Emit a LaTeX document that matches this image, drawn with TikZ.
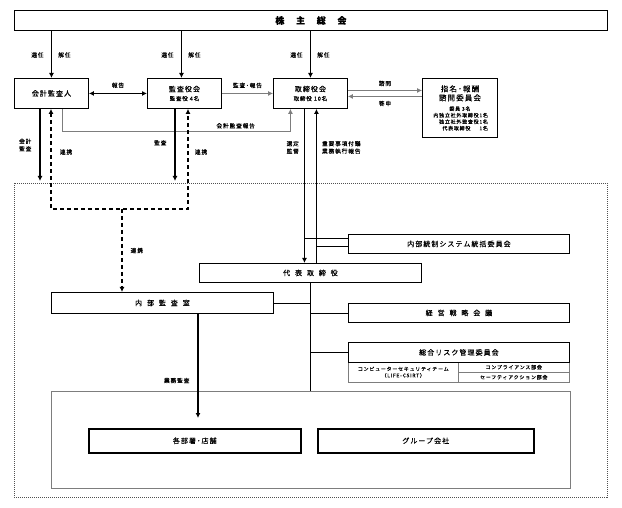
\documentclass[tikz,border=0pt]{standalone}
\usepackage{fontspec}
\setmainfont{Noto Sans CJK JP}[LetterSpace=15, FakeBold=0.3]
\usetikzlibrary{arrows.meta,positioning,calc}
\usepackage{xcolor}
\definecolor{linegray}{RGB}{125,125,125}
\definecolor{framegray}{RGB}{80,80,80}
\newcommand{\wide}[1]{{\addfontfeature{LetterSpace=70}#1}}

\begin{document}
\begin{tikzpicture}[x=1pt, y=-1pt,
  >={Latex[length=5pt,width=5pt]},
  box/.style={draw, line width=0.9pt, anchor=north west, inner sep=0pt, align=center, font=\fontsize{7}{9}\selectfont},
  cell/.style={draw=linegray, line width=0.5pt, anchor=north west, inner sep=0pt, align=center, font=\fontsize{5}{6.5}\selectfont},
  lbl/.style={inner sep=0pt, align=center, font=\fontsize{5.7}{7.5}\selectfont},
  arr/.style={->, line width=1.2pt},
  grayarr/.style={->, draw=linegray, line width=0.8pt},
  link/.style={dash pattern=on 4pt off 3pt, line width=1.2pt},
  branch/.style={line width=0.9pt}
]
\useasboundingbox (0,0) rectangle (622,508);

\node[box, minimum width=593pt, minimum height=20pt, font=\fontsize{9}{9}\selectfont\bfseries] (soukai) at (14,10) {\addfontfeature{LetterSpace=130}株主総会};
\node[box, minimum width=74pt, minimum height=30pt] (kaikei) at (14,78) {会計監査人};
\node[box, minimum width=74pt, minimum height=30pt] (kansayaku) at (147,78) {監査役会\\{\fontsize{5.5}{7}\selectfont 監査役 4名}};
\node[box, minimum width=74pt, minimum height=30pt] (torishimari) at (273,78) {取締役会\\{\fontsize{5.5}{7}\selectfont 取締役 10名}};
\node[box, minimum width=75pt, minimum height=59pt] (shimei) at (422,78) {{\fontsize{7.5}{8.5}\selectfont 指名･報酬}\\{\fontsize{7.5}{8.5}\selectfont 諮問委員会}\\[1pt]
  {\fontsize{5}{5.5}\selectfont 委員 3名}\\[-2.5pt]
  {\fontsize{5}{5.5}\selectfont\makebox[56pt][r]{内独立社外取締役1名}}\\[-2.5pt]
  {\fontsize{5}{5.5}\selectfont\makebox[56pt][r]{独立社外監査役1名}}\\[-2.5pt]
  {\fontsize{5}{5.5}\selectfont\makebox[56pt][r]{代表取締役\hspace{9pt}1名}}};

\node[box, minimum width=221pt, minimum height=19pt] (toukatsu) at (348,234) {内部統制システム統括委員会};
\node[box, minimum width=222pt, minimum height=19pt] (daihyo) at (199,263) {\wide{代表取締役}};
\node[box, minimum width=222pt, minimum height=21pt] (naibu) at (51,292) {\wide{内部監査室}};
\node[box, minimum width=221pt, minimum height=19pt] (senryaku) at (348,303) {\wide{経営戦略会議}};
\node[cell, minimum width=110pt, minimum height=20pt] (csirt) at (348,362) {コンピューターセキュリティチーム\\（LIFE-CSIRT）};
\node[cell, minimum width=111pt, minimum height=10pt] (comp) at (458,362) {コンプライアンス部会};
\node[cell, minimum width=111pt, minimum height=10pt] (safety) at (458,372) {セーフティアクション部会};
\node[box, minimum width=221pt, minimum height=20pt] (risk) at (348,342) {総合リスク管理委員会};

\node[draw=linegray, line width=0.8pt, anchor=north west, minimum width=519pt, minimum height=97pt] (genba) at (51,391) {};
\node[box, line width=1.5pt, minimum width=212pt, minimum height=24pt] (busho) at (88,428) {各部署･店舗};
\node[box, line width=1.5pt, minimum width=216pt, minimum height=24pt] (group) at (317,428) {グループ会社};
\draw[framegray, line width=0.9pt, dash pattern=on 1pt off 1pt] (14,183) rectangle (607,497);

\foreach \n/\dx in {kaikei/0,kansayaku/-3,torishimari/0} {
  \draw[arr] ([xshift=\dx pt]soukai.south -| \n.north) -- ([xshift=\dx pt]\n.north);
  \node[lbl] at ($(\n.north)+(\dx-14,-23)$) {選任};
  \node[lbl] at ($(\n.north)+(\dx+13,-23)$) {解任};
}
\draw[<->, line width=1.2pt] (kaikei.east) -- (kansayaku.west) node[lbl, midway, above=5pt] {報告};
\draw[grayarr] (kansayaku.east) -- (torishimari.west) node[lbl, midway, above=5pt] {監査･報告};
\draw[grayarr] ([xshift=11pt]kaikei.south) -- ++(0,23) -| ([xshift=-20pt]torishimari.south) node[lbl, pos=0.38, above=3pt] {会計監査報告};
\draw[grayarr] ([yshift=3pt]torishimari.east) -- ([yshift=3pt]torishimari.east -| shimei.west) node[lbl, midway, above=4pt] {諮問};
\draw[grayarr] ([yshift=-3pt]torishimari.east -| shimei.west) -- ([yshift=-3pt]torishimari.east) node[lbl, midway, below=4pt] {答申};

\coordinate (kaikeiend) at (40,181);
\coordinate (kansaend) at (175,181);
\draw[arr] (kaikei.south -| kaikeiend) -- (kaikeiend) node[lbl, pos=0.5, left=8pt] {会計\\監査};
\draw[arr] (kansayaku.south -| kansaend) -- (kansaend) node[lbl, pos=0.47, left=8pt] {監査};

\coordinate (linkl) at (51,209);
\coordinate (linkr) at (188,209);
\coordinate (linkm) at (122,209);
\draw[link, <->] (kaikei.south -| linkl) -- (linkl) -- (linkr) -- (kansayaku.south -| linkr);
\node[lbl] at (66,152) {連携};
\node[lbl] at (201,152) {連携};
\draw[link, ->] (linkm) -- (naibu.north -| linkm) node[lbl, midway, right=8pt] {連携};

\coordinate (sentei) at ([xshift=-6pt]torishimari.south);
\coordinate (houkoku) at ([xshift=6pt]torishimari.south);
\draw[arr] (sentei) -- (sentei |- daihyo.north) node[lbl, pos=0.25, left=5pt] {選定\\監督};
\draw[arr] (houkoku |- daihyo.north) -- (houkoku) node[lbl, pos=0.75, right=5pt] {重要事項付議\\業務執行報告};
\draw[branch] ([yshift=5pt]toukatsu.west) -- ([yshift=5pt]toukatsu.west -| sentei);
\draw[branch] ([yshift=-3pt]toukatsu.west) -- ([yshift=-3pt]toukatsu.west -| houkoku);

\draw[branch] (daihyo.south) -- (daihyo.south |- genba.north);
\draw[branch] (naibu.east) -- (naibu.east -| daihyo.south);
\foreach \n in {senryaku,risk}
  \draw[branch] (\n.west) -- (\n.west -| daihyo.south);

\coordinate (gyoumu) at (198,418);
\draw[arr] (naibu.south -| gyoumu) -- (gyoumu) node[lbl, pos=0.64, left=8pt] {業務監査};
\end{tikzpicture}
\end{document}
